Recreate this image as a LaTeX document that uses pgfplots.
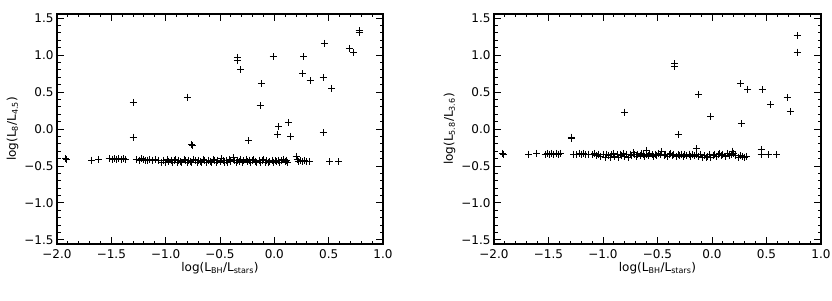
\documentclass[border=0pt]{standalone}
\usepackage{pgfplots}
\pgfplotsset{compat=1.18}
\usepackage{fontspec}
\setmainfont{DejaVu Sans}
\pgfplotstableread{
x y
-1.30 0.36
-1.30 -0.11
-0.80 0.43
-0.76 -0.21
-0.75 -0.23
-0.34 0.97
-0.34 0.93
-0.31 0.80
-0.24 -0.16
-0.13 0.32
-0.12 0.61
-0.01 0.98
0.03 -0.07
0.04 0.03
0.13 0.09
0.15 -0.10
0.27 0.98
0.26 0.75
0.33 0.65
0.46 1.16
0.45 0.70
0.45 -0.05
0.53 0.55
0.69 1.09
0.73 1.03
0.78 1.33
0.78 1.30
-1.92 -0.40
-1.91 -0.41
-1.68 -0.42
-1.62 -0.41
-1.52 -0.40
-1.49 -0.41
-1.47 -0.40
-1.45 -0.41
-1.43 -0.40
-1.41 -0.41
-1.39 -0.40
-1.37 -0.41
-1.27 -0.41
-1.24 -0.42
-1.22 -0.40
-1.20 -0.41
-1.19 -0.43
-1.17 -0.42
-1.15 -0.41
-1.12 -0.42
-1.09 -0.41
-1.07 -0.42
-1.04 -0.46
-1.02 -0.42
-1.00 -0.45
-0.98 -0.41
-0.97 -0.44
-0.95 -0.42
-0.94 -0.46
-0.92 -0.43
-0.91 -0.41
-0.89 -0.45
-0.88 -0.42
-0.86 -0.44
-0.85 -0.46
-0.83 -0.41
-0.82 -0.43
-0.80 -0.45
-0.79 -0.42
-0.77 -0.44
-0.76 -0.46
-0.74 -0.41
-0.73 -0.43
-0.71 -0.45
-0.70 -0.42
-0.68 -0.44
-0.67 -0.46
-0.65 -0.41
-0.64 -0.43
-0.62 -0.45
-0.61 -0.42
-0.59 -0.44
-0.58 -0.46
-0.56 -0.41
-0.55 -0.43
-0.53 -0.45
-0.52 -0.42
-0.50 -0.44
-0.49 -0.40
-0.47 -0.43
-0.46 -0.45
-0.44 -0.42
-0.43 -0.46
-0.41 -0.41
-0.40 -0.44
-0.38 -0.39
-0.37 -0.43
-0.35 -0.45
-0.34 -0.42
-0.32 -0.44
-0.31 -0.41
-0.29 -0.46
-0.28 -0.43
-0.26 -0.41
-0.25 -0.44
-0.23 -0.42
-0.22 -0.45
-0.20 -0.43
-0.19 -0.41
-0.17 -0.44
-0.16 -0.46
-0.14 -0.42
-0.13 -0.45
-0.11 -0.43
-0.10 -0.41
-0.08 -0.45
-0.07 -0.43
-0.05 -0.46
-0.04 -0.44
-0.02 -0.42
-0.01 -0.45
0.01 -0.43
0.02 -0.44
0.04 -0.42
0.05 -0.45
0.07 -0.43
0.08 -0.41
0.10 -0.44
0.11 -0.42
0.12 -0.45
0.20 -0.37
0.21 -0.41
0.22 -0.44
0.24 -0.43
0.26 -0.44
0.28 -0.43
0.30 -0.44
0.32 -0.44
0.51 -0.44
0.59 -0.44
}\lefttable
\pgfplotstableread{
x y
-1.29 -0.11
-1.29 -0.13
-0.80 0.23
-0.34 0.88
-0.34 0.85
-0.31 -0.08
-0.12 0.47
-0.01 0.17
0.26 0.61
0.27 0.07
0.33 0.54
0.46 0.53
0.54 0.33
0.69 0.42
0.72 0.24
0.78 1.26
0.78 1.04
-0.60 -0.29
-0.14 -0.27
0.19 -0.30
0.45 -0.28
0.45 -0.34
0.52 -0.35
0.59 -0.35
-1.92 -0.33
-1.91 -0.34
-1.68 -0.34
-1.61 -0.33
-1.53 -0.34
-1.51 -0.33
-1.49 -0.34
-1.47 -0.33
-1.45 -0.34
-1.43 -0.33
-1.41 -0.34
-1.39 -0.33
-1.27 -0.34
-1.24 -0.35
-1.22 -0.33
-1.20 -0.34
-1.18 -0.33
-1.16 -0.35
-1.13 -0.34
-1.10 -0.35
-1.08 -0.33
-1.06 -0.36
-1.04 -0.34
-1.02 -0.37
-1.00 -0.35
-0.98 -0.38
-0.97 -0.34
-0.95 -0.36
-0.93 -0.38
-0.92 -0.35
-0.90 -0.33
-0.89 -0.37
-0.87 -0.35
-0.86 -0.38
-0.84 -0.34
-0.83 -0.36
-0.81 -0.33
-0.80 -0.37
-0.78 -0.35
-0.77 -0.38
-0.75 -0.34
-0.74 -0.36
-0.72 -0.32
-0.71 -0.35
-0.69 -0.37
-0.68 -0.34
-0.66 -0.36
-0.65 -0.33
-0.63 -0.35
-0.62 -0.37
-0.60 -0.34
-0.58 -0.36
-0.57 -0.33
-0.55 -0.35
-0.54 -0.37
-0.52 -0.34
-0.51 -0.36
-0.49 -0.33
-0.47 -0.35
-0.46 -0.31
-0.44 -0.36
-0.43 -0.34
-0.41 -0.37
-0.39 -0.35
-0.38 -0.33
-0.36 -0.36
-0.35 -0.34
-0.33 -0.37
-0.31 -0.35
-0.30 -0.36
-0.28 -0.34
-0.26 -0.37
-0.25 -0.35
-0.23 -0.36
-0.21 -0.34
-0.20 -0.37
-0.18 -0.35
-0.16 -0.36
-0.14 -0.34
-0.12 -0.37
-0.11 -0.35
-0.09 -0.38
-0.07 -0.36
-0.05 -0.39
-0.04 -0.37
-0.02 -0.35
-0.01 -0.38
0.01 -0.36
0.02 -0.34
0.04 -0.37
0.06 -0.35
0.07 -0.33
0.09 -0.36
0.10 -0.34
0.12 -0.37
0.14 -0.33
0.16 -0.36
0.18 -0.34
0.20 -0.33
0.22 -0.36
0.24 -0.38
0.26 -0.36
0.28 -0.37
0.30 -0.38
0.32 -0.37
}\righttable
\pgfplotsset{
  myax/.style={
    scale only axis,
    height=230pt,
    xmin=-2, xmax=1, ymin=-1.556, ymax=1.556,
    xtick={-2,-1.5,...,1}, ytick={-1.5,-1,...,1.5},
    xticklabels={−2.0,−1.5,−1.0,−0.5,0.0,0.5,1.0},
    yticklabels={−1.5,−1.0,−0.5,0.0,0.5,1.0,1.5},
    minor x tick num=4, minor y tick num=4,
    tick align=inside,
    major tick length=7pt, minor tick length=3.5pt,
    every tick/.style={black, line width=0.9pt},
    axis line style={line width=1.2pt},
    tick label style={font=\fontsize{12}{14}\selectfont},
    label style={font=\fontsize{12}{14}\selectfont},
    xticklabel style={yshift=-2pt},
    xlabel={log(L\textsubscript{BH}/L\textsubscript{stars})},
    xlabel style={yshift=3pt},
    ylabel style={yshift=-1pt},
  },
  pts/.style={only marks, mark=+, mark size=3.5pt, mark options={line width=1pt, black}},
}
\begin{document}
\begin{tikzpicture}
\begin{axis}[myax, at={(57pt,56pt)}, anchor=south west, width=326pt,
  ylabel={log(L\textsubscript{8}/L\textsubscript{4.5})}]
\addplot[pts] table[x=x,y=y] {\lefttable};
\end{axis}
\begin{axis}[myax, at={(494pt,56pt)}, anchor=south west, width=327pt,
  ylabel={log(L\textsubscript{5.8}/L\textsubscript{3.6})}]
\addplot[pts] table[x=x,y=y] {\righttable};
\end{axis}
\pgfresetboundingbox
\path[use as bounding box] (0pt,0pt) rectangle (832pt,300pt);
\end{tikzpicture}
\end{document}
